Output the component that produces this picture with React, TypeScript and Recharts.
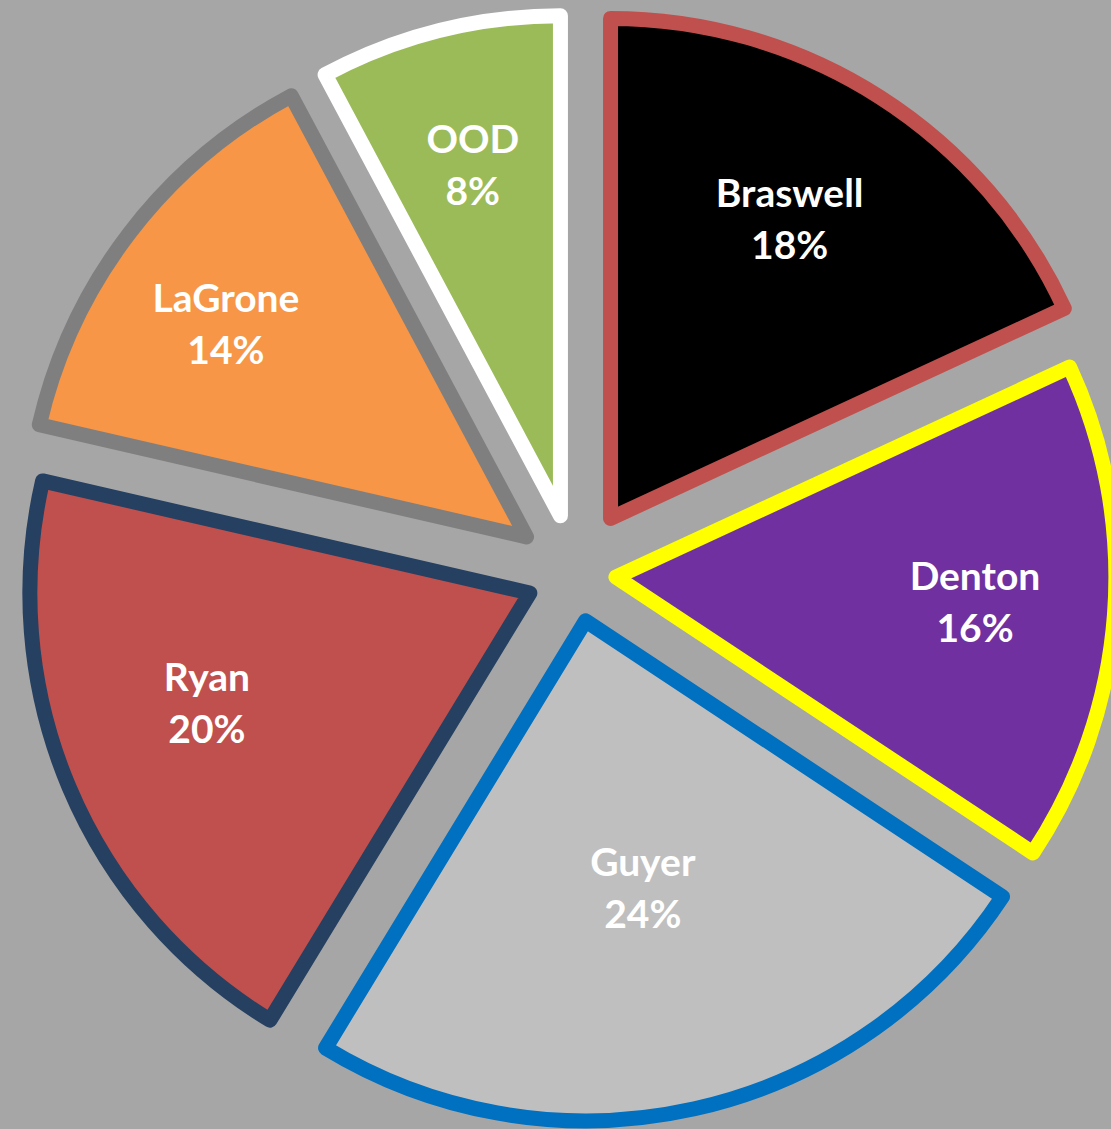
import React from 'react';
import { PieChart, Pie, Cell } from 'recharts';

const names = ['Braswell', 'Denton', 'Guyer', 'Ryan', 'LaGrone', 'OOD'];
const shares = [18.1, 16.2, 24.4, 19.9, 13.6, 7.8];

const fills = ['#000000', '#7030a0', '#bfbfbf', '#c0504d', '#f79646', '#9bbb59'];
const outlines = ['#c0504d', '#ffff00', '#0070c0', '#254061', '#7f7f7f', '#ffffff'];
// how far each slice is pulled out, px
const explode = [66, 41, 48, 49, 61, 60];
// label placement: fraction of radius, and clockwise turn from the slice middle (deg)
const labelDepth = [0.698, 0.72, 0.547, 0.682, 0.737, 0.723];
const labelTurn = [-1.7, -0.3, 0.5, 4.1, -2.1, 0];

const data = names.map((name, i) => ({ name, value: shares[i] }));
const total = shares.reduce((a, b) => a + b, 0);

const W = 1111;
const H = 1129;
const CX = 575;
const CY = 574;
const R = 500;
const RAD = Math.PI / 180;

// mid angle of slice i in recharts degrees (ccw from 3 o'clock)
const sliceMid = (i: number) => {
  const before = shares.slice(0, i).reduce((a, b) => a + b, 0);
  return 90 - ((before + shares[i] / 2) / total) * 360;
};

const makeLabel = (k: number) => (props: any) => {
  const { cx, cy, midAngle, outerRadius, index, name, percent } = props;
  if (index !== k) return null;
  const r = outerRadius * labelDepth[k];
  const a = midAngle - labelTurn[k];
  const x = cx + r * Math.cos(-a * RAD);
  const y = cy + r * Math.sin(-a * RAD);
  return (
    <text
      x={x}
      y={y}
      fill="#ffffff"
      textAnchor="middle"
      fontFamily="Lato, 'Open Sans', sans-serif"
      fontWeight={700}
      fontSize={39}
    >
      <tspan x={x} dy={-12}>{name}</tspan>
      <tspan x={x} dy={52}>{`${Math.round(percent * 100)}%`}</tspan>
    </text>
  );
};

export default function App() {
  return (
    <div style={{ position: 'absolute', left: 0, top: 0, width: W, height: H, background: '#a6a6a6' }}>
      <PieChart width={W} height={H} margin={{ top: 0, right: 0, bottom: 0, left: 0 }}>
        {names.map((n, k) => {
          const mid = sliceMid(k);
          return (
            <Pie
              key={n}
              data={data}
              dataKey="value"
              nameKey="name"
              cx={CX + explode[k] * Math.cos(mid * RAD)}
              cy={CY - explode[k] * Math.sin(mid * RAD)}
              outerRadius={R}
              innerRadius={0}
              startAngle={90}
              endAngle={-270}
              labelLine={false}
              label={makeLabel(k)}
              isAnimationActive={false}
            >
              {data.map((d, i) => (
                <Cell
                  key={d.name}
                  fill={i === k ? fills[i] : 'none'}
                  stroke={i === k ? outlines[i] : 'none'}
                  strokeWidth={15}
                  strokeLinejoin="round"
                />
              ))}
            </Pie>
          );
        })}
      </PieChart>
    </div>
  );
}
